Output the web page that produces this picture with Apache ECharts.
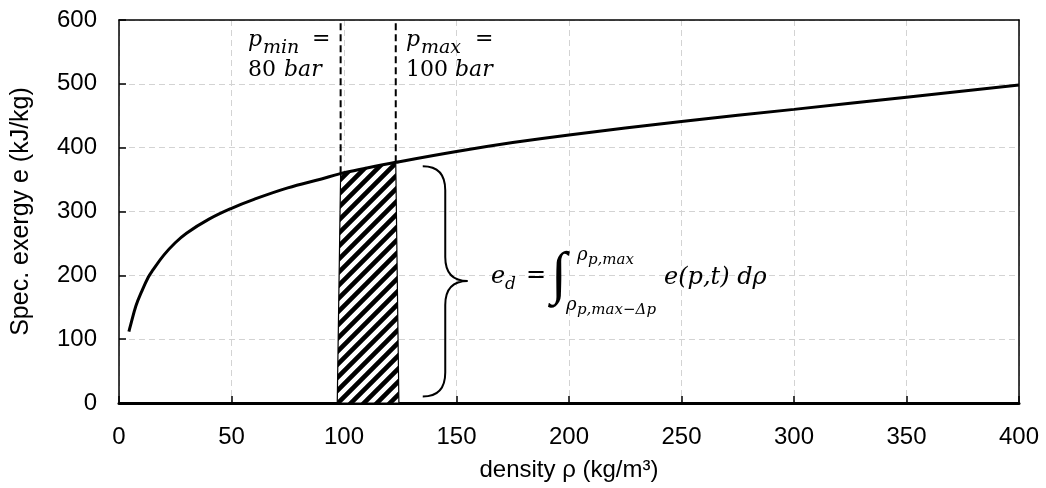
<!DOCTYPE html>
<html>
<head>
<meta charset="utf-8">
<script src="https://cdn.jsdelivr.net/npm/echarts@6/dist/echarts.min.js"></script>
<style>
  html, body { margin: 0; padding: 0; background: #fff; }
  #main { width: 1046px; height: 488px; }
</style>
</head>
<body>
<div id="main"></div>
<script>
// exergy curve
var rho = [4.4, 5, 7.5, 10, 13, 15, 20, 25, 30, 40, 50, 60, 75, 90, 98, 110, 123, 150, 175, 200, 250, 300, 350, 400];
var exergy = [112, 120, 152, 174, 197, 208, 232, 251, 266, 288, 305, 319, 337, 351, 359, 368, 377, 394, 408, 420, 441, 460, 479, 498];

// hatched band between p_min and p_max (polygon outline)
var hatchRho = [97, 98.5, 110, 123, 124.4];
var hatchE = [0, 360, 368, 377, 0];

// dashed markers p_min / p_max : from the curve up to the top
var markerRho = [98.5, 123];
var markerE = [360, 377];
var axisTop = 600;

// curly brace: tips / stem / point, bottom / middle / top
var braceRho = [135, 145, 155];
var braceE = [10, 191, 371];

var xTicks = { min: 0, max: 400, step: 50 };
var yTicks = { min: 0, max: 600, step: 100 };

var chart = echarts.init(document.getElementById('main'));

// hatch tile, wide upward diagonal
var tile = document.createElement('canvas');
tile.width = 13; tile.height = 13;
var c = tile.getContext('2d');
c.fillStyle = '#fff';
c.fillRect(0, 0, 13, 13);
c.strokeStyle = '#000';
c.lineWidth = 4.6;
c.beginPath();
c.moveTo(-3, 16); c.lineTo(16, -3);
c.moveTo(-10, 10); c.lineTo(10, -10);
c.moveTo(3, 23); c.lineTo(23, 3);
c.stroke();

var gridLine = { show: true, lineStyle: { color: '#d3d3d3', width: 1, type: [6, 4] } };
var sans = 'Liberation Sans, Arial, sans-serif';
var frameAxis = {
  axisLine: { show: true, onZero: false, lineStyle: { color: '#000', width: 1.5 } },
  axisTick: { show: false }, axisLabel: { show: false }, splitLine: { show: false }
};

var series = [];

series.push({
  type: 'custom',
  z: 3,
  silent: true,
  data: [[hatchRho[0], hatchE[0]]],
  renderItem: function (params, api) {
    var pts = hatchRho.map(function (r, i) { return api.coord([r, hatchE[i]]); });
    return {
      type: 'polygon',
      shape: { points: pts },
      style: { fill: { image: tile, repeat: 'repeat' }, stroke: '#000', lineWidth: 1.2 }
    };
  }
});

series.push({
  type: 'line',
  z: 5,
  data: rho.map(function (r, i) { return [r, exergy[i]]; }),
  smooth: 0.4,
  showSymbol: false,
  lineStyle: { color: '#000', width: 3 }
});

markerRho.forEach(function (r, i) {
  series.push({
    type: 'line',
    z: 4,
    data: [[r, markerE[i]], [r, axisTop]],
    showSymbol: false,
    lineStyle: { color: '#000', width: 2, type: [7, 4] }
  });
});

series.push({
  type: 'custom',
  z: 4,
  silent: true,
  data: [[braceRho[0], braceE[0]]],
  renderItem: function (params, api) {
    var top = api.coord([braceRho[0], braceE[2]]);
    var bot = api.coord([braceRho[0], braceE[0]]);
    var mid = api.coord([braceRho[1], braceE[1]]);
    var tip = api.coord([braceRho[2], braceE[1]]);
    var x0 = top[0], xm = mid[0], xt = tip[0], ym = mid[1], r = 24;
    var d = 'M' + x0 + ' ' + top[1] +
      ' Q' + xm + ' ' + top[1] + ' ' + xm + ' ' + (top[1] + r) +
      ' L' + xm + ' ' + (ym - r) +
      ' Q' + xm + ' ' + ym + ' ' + xt + ' ' + ym +
      ' Q' + xm + ' ' + ym + ' ' + xm + ' ' + (ym + r) +
      ' L' + xm + ' ' + (bot[1] - r) +
      ' Q' + xm + ' ' + bot[1] + ' ' + x0 + ' ' + bot[1];
    return { type: 'path', shape: { pathData: d }, style: { fill: null, stroke: '#000', lineWidth: 2 } };
  }
});

// math labels
function t(x, y, s, size, italic, font) {
  return {
    type: 'text', x: x, y: y, z: 100,
    style: {
      text: s, fontSize: size, fontFamily: font || 'DejaVu Serif',
      fontStyle: italic ? 'italic' : 'normal', fill: '#000',
      verticalAlign: 'middle', align: 'left'
    }
  };
}

var labels = [
  t(248, 40, 'p', 22, true), t(263, 48, 'min', 19, true), t(312, 39, '=', 22, false),
  t(248, 70, '80', 22, false), t(284, 70, 'bar', 22, true),
  t(406, 40, 'p', 22, true), t(421, 48, 'max', 19, true), t(475, 39, '=', 22, false),
  t(406, 70, '100', 22, false), t(455, 70, 'bar', 22, true),

  t(491, 277, 'e', 24, true), t(505, 285, 'd', 17, true),
  t(526, 276, '=', 24, false),
  t(551, 277, '\u222B', 58, false, 'Liberation Serif'),
  t(577, 255, '\u03C1', 18, true), t(588, 260, 'p,max', 15, true),
  t(566, 305, '\u03C1', 18, true), t(577, 310, 'p,max\u2212\u0394p', 15, true),
  t(664, 278, 'e(p,t) d\u03C1', 24, true)
];

chart.setOption({
  animation: false,
  backgroundColor: '#fff',
  grid: { left: 119, right: 27, top: 20, bottom: 85 },
  xAxis: [{
    type: 'value', min: xTicks.min, max: xTicks.max, interval: xTicks.step,
    name: 'density \u03C1 (kg/m\u00B3)', nameLocation: 'middle', nameGap: 55,
    nameTextStyle: { fontSize: 24, color: '#000', fontFamily: sans },
    axisLine: { show: true, onZero: false, lineStyle: { color: '#000', width: 3 } },
    axisTick: { show: true, inside: true, length: 7, lineStyle: { color: '#000', width: 1.5 } },
    axisLabel: { fontSize: 24, color: '#000', fontFamily: sans, margin: 22 },
    splitLine: gridLine
  }, Object.assign({ type: 'value', position: 'top', min: xTicks.min, max: xTicks.max }, frameAxis)],
  yAxis: [{
    type: 'value', min: yTicks.min, max: yTicks.max, interval: yTicks.step,
    name: 'Spec. exergy e (kJ/kg)', nameLocation: 'middle', nameGap: 85, nameRotate: 90,
    nameTextStyle: { fontSize: 25, color: '#000', fontFamily: sans },
    axisLine: { show: true, onZero: false, lineStyle: { color: '#000', width: 1.5 } },
    axisTick: { show: true, inside: true, length: 7, lineStyle: { color: '#000', width: 1.5 } },
    axisLabel: { fontSize: 24, color: '#000', fontFamily: sans, margin: 22 },
    splitLine: gridLine
  }, Object.assign({ type: 'value', position: 'right', min: yTicks.min, max: yTicks.max }, frameAxis)],
  series: series,
  graphic: labels
});
</script>
</body>
</html>
